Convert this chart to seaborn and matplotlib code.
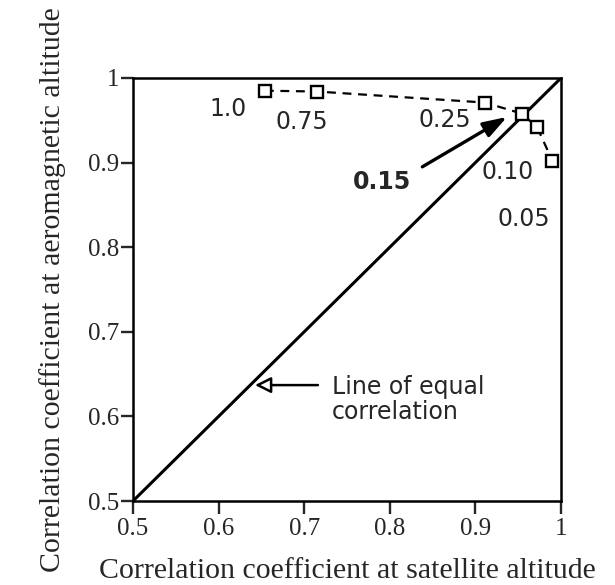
import matplotlib
matplotlib.use("Agg")
import matplotlib.pyplot as plt
import seaborn as sns
import pandas as pd

# data
sat_corr = [0.654, 0.715, 0.911, 0.954, 0.972, 0.990]
aero_corr = [0.985, 0.984, 0.971, 0.958, 0.942, 0.902]
point_labels = ["1.0", "0.75", "0.25", "0.15", "0.10", "0.05"]
equal_x = [0.5, 1.0]
equal_y = [0.5, 1.0]
x_ticks = [0.5, 0.6, 0.7, 0.8, 0.9, 1.0]
x_ticklabels = ["0.5", "0.6", "0.7", "0.8", "0.9", "1"]
y_ticks = [0.5, 0.6, 0.7, 0.8, 0.9, 1.0]
y_ticklabels = ["0.5", "0.6", "0.7", "0.8", "0.9", "1"]

sns.set_style("white")
plt.rcParams["font.family"] = ["Liberation Serif", "DejaVu Serif"]

fig = plt.figure(figsize=(6.15, 5.85), dpi=100)
ax = fig.add_axes([133/615, 1-501/585, 428/615, 423/585])

df = pd.DataFrame({"x": sat_corr, "y": aero_corr})
sns.lineplot(data=df, x="x", y="y", ax=ax, color="black", lw=1.6,
             linestyle=(0, (4, 3)), sort=False, estimator=None,
             marker="s", markersize=9, markerfacecolor="white",
             markeredgecolor="black", markeredgewidth=1.7, zorder=3)
deq = pd.DataFrame({"x": equal_x, "y": equal_y})
sns.lineplot(data=deq, x="x", y="y", ax=ax, color="black", lw=2.2,
             estimator=None, zorder=2)

ax.set_xlim(0.5, 1.0)
ax.set_ylim(0.5, 1.0)
ax.set_xticks(x_ticks)
ax.set_xticklabels(x_ticklabels)
ax.set_yticks(y_ticks)
ax.set_yticklabels(y_ticklabels)
ax.tick_params(axis="x", direction="out", length=9, width=1.7,
               labelsize=18, pad=3, top=False, bottom=True)
ax.tick_params(axis="y", direction="out", length=9, width=1.7,
               labelsize=18, pad=1, right=False, left=True)
for s in ax.spines.values():
    s.set_linewidth(1.8)
    s.set_color("black")

ax.set_xlabel("Correlation coefficient at satellite altitude", fontsize=21.5, labelpad=13)
ax.set_ylabel("Correlation coefficient at aeromagnetic altitude", fontsize=21.5, labelpad=16)

sans = ["DejaVu Sans"]
label_pos = {
    "1.0": (0.611, 0.963),
    "0.75": (0.697, 0.948),
    "0.25": (0.864, 0.950),
    "0.10": (0.938, 0.889),
    "0.05": (0.956, 0.833),
}
for lab in point_labels:
    if lab == "0.15":
        continue
    lx, ly = label_pos[lab]
    ax.text(lx, ly, lab, fontsize=17, family=sans, ha="center", va="center")

ax.text(0.791, 0.877, "0.15", fontsize=17, family=sans, fontweight="bold",
        ha="center", va="center")
ax.annotate("", xy=(0.937, 0.954), xytext=(0.838, 0.895),
            arrowprops=dict(arrowstyle="-|>,head_length=0.9,head_width=0.3",
                            color="black", lw=2.4, mutation_scale=16,
                            shrinkA=0, shrinkB=0))

ax.text(0.7325, 0.6205, "Line of equal\ncorrelation", fontsize=17, family=sans,
        ha="left", va="center", linespacing=1.05)
ax.annotate("", xy=(0.6425, 0.637), xytext=(0.716, 0.637),
            arrowprops=dict(arrowstyle="-|>,head_length=0.6,head_width=0.3",
                            ec="black", fc="white", lw=1.8,
                            mutation_scale=16, shrinkA=0, shrinkB=0))

fig.savefig("out.png", dpi=100)
